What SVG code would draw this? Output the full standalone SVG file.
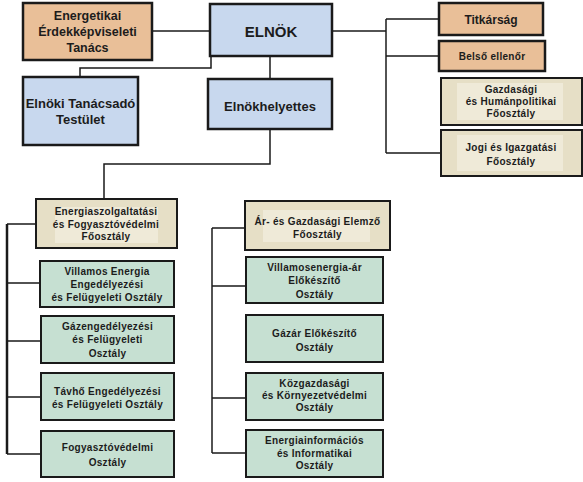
<svg xmlns="http://www.w3.org/2000/svg" width="583" height="482" viewBox="0 0 583 482">
<style>
text{font-family:"Liberation Sans",Arial,sans-serif;font-weight:bold;fill:#1c1c1c;text-anchor:middle}
.t10{font-size:10px;letter-spacing:0.3px}
.t12{font-size:12px}
.t13{font-size:13px}
.blue{fill:#c8d8ee;stroke:#1a1a1a;stroke-width:2.5}
.orange{fill:#e9bf98;stroke:#1a1a1a;stroke-width:2.5}
.tan{fill:#e6dfc6;stroke:#1a1a1a;stroke-width:2}
.inner{fill:#efead8;stroke:none}
.green{fill:#c6e0d2;stroke:#1a1a1a;stroke-width:2}
.c{fill:none;stroke:#1a1a1a;stroke-width:1.5}
</style>
<rect width="583" height="482" fill="#ffffff"/>
<g id="connectors">
<path class="c" d="M152 31H210"/>
<path class="c" d="M211 56V68H80V77"/>
<path class="c" d="M270 56V79"/>
<path class="c" d="M332 31H386"/>
<path class="c" d="M386 19V153"/>
<path class="c" d="M386 19H439M386 56H439M386 153H441"/>
<path class="c" d="M270 129V164H104V199"/>
<path class="c" d="M7 224V454" style="stroke-width:2.5"/>
<path class="c" d="M7 224H36M7 283H40M7 341H41M7 397H41M7 454H41"/>
<path class="c" d="M212 228V453"/>
<path class="c" d="M212 228H245M212 286H246M212 398H246M212 453H246"/>
</g>
<g id="energetikai">
<rect class="orange" x="23" y="3" width="129" height="57"/>
<text class="t12" x="87.5" y="20" style="font-size:12.5px">Energetikai</text>
<text class="t12" x="87.5" y="36" style="font-size:12.5px">Érdekképviseleti</text>
<text class="t12" x="87.5" y="52" style="font-size:12.5px">Tanács</text>
</g>
<g id="elnok">
<rect class="blue" x="210" y="4" width="122" height="52"/>
<text x="271" y="37" style="font-size:15px">ELNÖK</text>
</g>
<g id="elnoki-tanacsado">
<rect class="blue" x="23" y="77" width="115" height="68"/>
<text class="t13" x="80.5" y="108">Elnöki Tanácsadó</text>
<text class="t13" x="80.5" y="124">Testület</text>
</g>
<g id="elnokhelyettes">
<rect class="blue" x="208" y="79" width="124" height="50"/>
<text class="t13" x="270" y="111">Elnökhelyettes</text>
</g>
<g id="titkarsag">
<rect class="orange" x="439" y="3" width="104" height="32"/>
<text class="t12" x="491" y="24">Titkárság</text>
</g>
<g id="belso-ellenor">
<rect class="orange" x="439" y="41" width="106" height="30"/>
<text class="t10" x="492" y="60">Belső ellenőr</text>
</g>
<g id="gazdasagi">
<rect class="tan" x="441" y="78" width="141" height="47"/>
<rect class="inner" x="457" y="83" width="106" height="37"/>
<text class="t10" x="511" y="93">Gazdasági</text>
<text class="t10" x="511" y="105">és Humánpolitikai</text>
<text class="t10" x="511" y="117">Főosztály</text>
</g>
<g id="jogi">
<rect class="tan" x="441" y="130" width="141" height="46"/>
<rect class="inner" x="457" y="135" width="106" height="36"/>
<text class="t10" x="511" y="151">Jogi és Igazgatási</text>
<text class="t10" x="511" y="165">Főosztály</text>
</g>
<g id="energiaszolgaltatasi">
<rect class="tan" x="36" y="199" width="141" height="49"/>
<rect class="inner" x="55" y="207" width="103" height="36"/>
<text class="t10" x="106" y="215">Energiaszolgaltatási</text>
<text class="t10" x="106" y="228">és Fogyasztóvédelmi</text>
<text class="t10" x="106" y="240">Főosztály</text>
</g>
<g id="villamos-energia">
<rect class="green" x="40" y="261" width="134" height="46"/>
<text class="t10" x="107" y="275">Villamos Energia</text>
<text class="t10" x="107" y="288">Engedélyezési</text>
<text class="t10" x="107" y="301">és Felügyeleti Osztály</text>
</g>
<g id="gazengedelyezesi">
<rect class="green" x="41" y="316" width="133" height="47"/>
<text class="t10" x="107.5" y="330">Gázengedélyezési</text>
<text class="t10" x="107.5" y="343">és Felügyeleti</text>
<text class="t10" x="107.5" y="357">Osztály</text>
</g>
<g id="tavho">
<rect class="green" x="41" y="373" width="133" height="47"/>
<text class="t10" x="107.5" y="395">Távhő Engedélyezési</text>
<text class="t10" x="107.5" y="408">és Felügyeleti Osztály</text>
</g>
<g id="fogyasztovedelmi">
<rect class="green" x="41" y="431" width="133" height="46"/>
<text class="t10" x="107.5" y="451">Fogyasztóvédelmi</text>
<text class="t10" x="107.5" y="466">Osztály</text>
</g>
<g id="ar-gazdasagi">
<rect class="tan" x="245" y="201" width="145" height="49"/>
<rect class="inner" x="263" y="210" width="107" height="32"/>
<text class="t10" x="317.5" y="225">Ár- és Gazdasági Elemző</text>
<text class="t10" x="317.5" y="238">Főosztály</text>
</g>
<g id="villamosenergia-ar">
<rect class="green" x="246" y="257" width="137" height="46"/>
<text class="t10" x="314.5" y="271">Villamosenergia-ár</text>
<text class="t10" x="314.5" y="284">Előkészítő</text>
<text class="t10" x="314.5" y="298">Osztály</text>
</g>
<g id="gazar">
<rect class="green" x="246" y="315" width="137" height="47"/>
<text class="t10" x="314.5" y="337">Gázár Előkészítő</text>
<text class="t10" x="314.5" y="351">Osztály</text>
</g>
<g id="kozgazdasagi">
<rect class="green" x="246" y="373" width="137" height="47"/>
<text class="t10" x="314.5" y="387">Közgazdasági</text>
<text class="t10" x="314.5" y="399">és Környezetvédelmi</text>
<text class="t10" x="314.5" y="411">Osztály</text>
</g>
<g id="energiainformacios">
<rect class="green" x="246" y="430" width="137" height="47"/>
<text class="t10" x="314.5" y="444">Energiainformációs</text>
<text class="t10" x="314.5" y="457">és Informatikai</text>
<text class="t10" x="314.5" y="469">Osztály</text>
</g>
</svg>
